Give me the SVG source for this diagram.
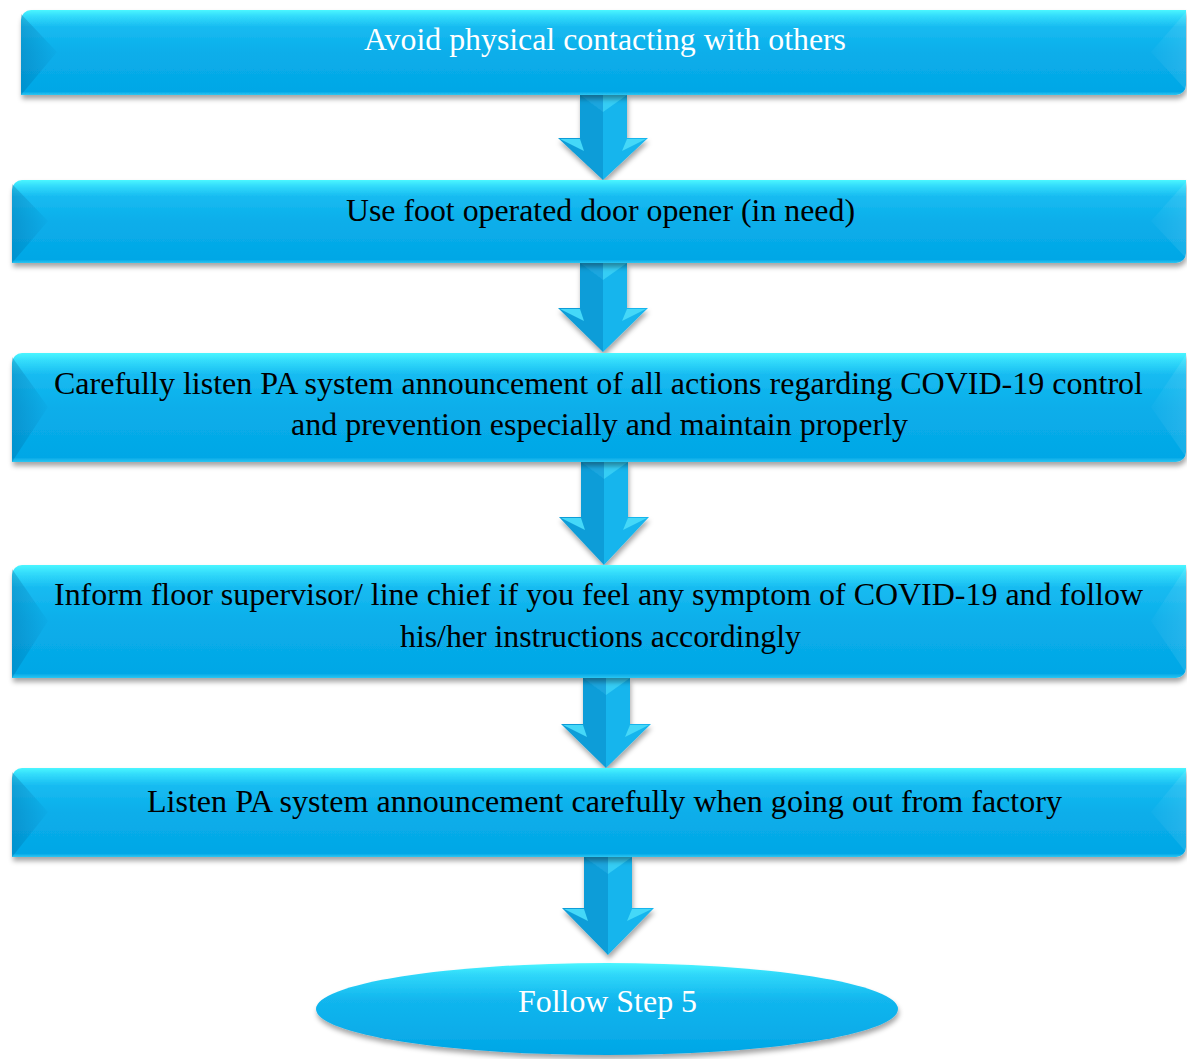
<svg xmlns="http://www.w3.org/2000/svg" width="1187" height="1059" viewBox="0 0 1187 1059">
  <defs>
    <!-- glossy blue fill for the step bars -->
    <linearGradient id="barFill" x1="0" y1="0" x2="0" y2="1">
      <stop offset="0" stop-color="#4af6ff"/>
      <stop offset="0.07" stop-color="#33dcfb"/>
      <stop offset="0.2" stop-color="#17bbf1"/>
      <stop offset="0.5" stop-color="#0aaeea"/>
      <stop offset="0.96" stop-color="#03a7e6"/>
      <stop offset="1" stop-color="#2cc6f2"/>
    </linearGradient>
    <linearGradient id="bevelL" x1="0" y1="0" x2="1" y2="0">
      <stop offset="0" stop-color="#005a90" stop-opacity="0.28"/>
      <stop offset="1" stop-color="#005a90" stop-opacity="0.03"/>
    </linearGradient>
    <linearGradient id="bevelR" x1="1" y1="0" x2="0" y2="0">
      <stop offset="0" stop-color="#ffffff" stop-opacity="0.10"/>
      <stop offset="1" stop-color="#ffffff" stop-opacity="0.02"/>
    </linearGradient>
    <linearGradient id="ovalFill" x1="0" y1="0" x2="0" y2="1">
      <stop offset="0" stop-color="#4af6ff"/>
      <stop offset="0.12" stop-color="#30d8fa"/>
      <stop offset="0.4" stop-color="#12b6ee"/>
      <stop offset="1" stop-color="#02a6e6"/>
    </linearGradient>
    <filter id="shadow" x="-5%" y="-20%" width="110%" height="150%">
      <feGaussianBlur in="SourceAlpha" stdDeviation="2.5"/>
      <feOffset dx="1" dy="4" result="b"/>
      <feFlood flood-color="#000" flood-opacity="0.35"/>
      <feComposite in2="b" operator="in"/>
      <feMerge>
        <feMergeNode/>
        <feMergeNode in="SourceGraphic"/>
      </feMerge>
    </filter>
    <style>
      .bar { fill: url(#barFill); }
      .bl { fill: url(#bevelL); }
      .br { fill: url(#bevelR); }
      .lbl { font-family: "Liberation Serif", "Times New Roman", serif; font-size: 31px; fill: #000; }
      .w { fill: #ffffff; }
      .aL { fill: #0c9dd8; }
      .aR { fill: #17b5ed; }
      .aTopL { fill: #1aa6df; }
      .aTopR { fill: #34cdf5; }
      .aWing { fill: #45d8f8; }
    </style>
  </defs>

  <rect width="1187" height="1059" fill="#ffffff"/>

  <!-- down arrows between steps -->
  <g id="connectors" filter="url(#shadow)">
    <g id="arrow1">
      <polygon class="aL" points="580,95 603,95 603,180 558,138 580,138"/>
      <polygon class="aR" points="603,95 627,95 627,138 648,138 603,180"/>
      <polygon class="aTopL" points="580,95 603,95 603,112"/>
      <polygon class="aTopR" points="603,95 627,95 603,112"/>
      <polygon class="aWing" points="560,139 580,139 584,151"/>
      <polygon class="aWing" points="627,139 646,139 622,151"/>
    </g>
    <g id="arrow2">
      <polygon class="aL" points="580,263 603,263 603,352 558,308 580,308"/>
      <polygon class="aR" points="603,263 627,263 627,308 648,308 603,352"/>
      <polygon class="aTopL" points="580,263 603,263 603,280"/>
      <polygon class="aTopR" points="603,263 627,263 603,280"/>
      <polygon class="aWing" points="560,309 580,309 584,321"/>
      <polygon class="aWing" points="627,309 646,309 622,321"/>
    </g>
    <g id="arrow3">
      <polygon class="aL" points="581,462 604,462 604,565 559,517 581,517"/>
      <polygon class="aR" points="604,462 628,462 628,517 649,517 604,565"/>
      <polygon class="aTopL" points="581,462 604,462 604,479"/>
      <polygon class="aTopR" points="604,462 628,462 604,479"/>
      <polygon class="aWing" points="561,518 581,518 585,530"/>
      <polygon class="aWing" points="628,518 647,518 623,530"/>
    </g>
    <g id="arrow4">
      <polygon class="aL" points="583,678 606,678 606,768 561,724 583,724"/>
      <polygon class="aR" points="606,678 630,678 630,724 651,724 606,768"/>
      <polygon class="aTopL" points="583,678 606,678 606,695"/>
      <polygon class="aTopR" points="606,678 630,678 606,695"/>
      <polygon class="aWing" points="563,725 583,725 587,737"/>
      <polygon class="aWing" points="630,725 649,725 625,737"/>
    </g>
    <g id="arrow5">
      <polygon class="aL" points="584,857 608,857 608,955 562,908 584,908"/>
      <polygon class="aR" points="608,857 632,857 632,908 654,908 608,955"/>
      <polygon class="aTopL" points="584,857 608,857 608,874"/>
      <polygon class="aTopR" points="608,857 632,857 608,874"/>
      <polygon class="aWing" points="564,909 584,909 588,921"/>
      <polygon class="aWing" points="632,909 652,909 627,921"/>
    </g>
  </g>

  <!-- step 1 -->
  <g id="step1">
    <path class="bar" filter="url(#shadow)" d="M31,10 H1186 V85 A10,10 0 0 1 1176,95 H21 V20 A10,10 0 0 1 31,10 Z"/>
    <polygon class="bl" points="21,14 57,52 21,95"/>
    <polygon class="br" points="1186,12 1151,52 1186,90"/>
    <text class="lbl w" x="364" y="50" textLength="482" lengthAdjust="spacingAndGlyphs">Avoid physical contacting  with others</text>
  </g>

  <!-- step 2 -->
  <g id="step2">
    <path class="bar" filter="url(#shadow)" d="M22,180 H1186 V253 A10,10 0 0 1 1176,263 H12 V190 A10,10 0 0 1 22,180 Z"/>
    <polygon class="bl" points="12,184 48,221 12,263"/>
    <polygon class="br" points="1186,182 1151,221 1186,258"/>
    <text class="lbl" x="346" y="221" textLength="509" lengthAdjust="spacingAndGlyphs">Use foot operated door opener (in need)</text>
  </g>

  <!-- step 3 -->
  <g id="step3">
    <path class="bar" filter="url(#shadow)" d="M22,353 H1186 V452 A10,10 0 0 1 1176,462 H12 V363 A10,10 0 0 1 22,353 Z"/>
    <polygon class="bl" points="12,357 48,407 12,462"/>
    <polygon class="br" points="1186,355 1151,407 1186,457"/>
    <text class="lbl" x="54" y="394" textLength="1089" lengthAdjust="spacingAndGlyphs">Carefully listen PA system announcement  of all actions regarding COVID-19  control</text>
    <text class="lbl" x="291" y="435" textLength="617" lengthAdjust="spacingAndGlyphs">and prevention especially and maintain properly</text>
  </g>

  <!-- step 4 -->
  <g id="step4">
    <path class="bar" filter="url(#shadow)" d="M22,565 H1186 V668 A10,10 0 0 1 1176,678 H12 V575 A10,10 0 0 1 22,565 Z"/>
    <polygon class="bl" points="12,569 48,621 12,678"/>
    <polygon class="br" points="1186,567 1151,621 1186,673"/>
    <text class="lbl" x="54" y="605" textLength="1089" lengthAdjust="spacingAndGlyphs">Inform  floor supervisor/ line chief if you feel any symptom  of COVID-19  and follow</text>
    <text class="lbl" x="400" y="647" textLength="401" lengthAdjust="spacingAndGlyphs">his/her instructions  accordingly</text>
  </g>

  <!-- step 5 -->
  <g id="step5">
    <path class="bar" filter="url(#shadow)" d="M22,768 H1186 V847 A10,10 0 0 1 1176,857 H12 V778 A10,10 0 0 1 22,768 Z"/>
    <polygon class="bl" points="12,772 48,812 12,857"/>
    <polygon class="br" points="1186,770 1151,812 1186,852"/>
    <text class="lbl" x="147" y="812" textLength="915" lengthAdjust="spacingAndGlyphs">Listen PA system announcement  carefully when going out from factory</text>
  </g>

  <!-- final step -->
  <g id="finalStep">
    <ellipse cx="607" cy="1009" rx="291" ry="46" fill="url(#ovalFill)" filter="url(#shadow)"/>
    <text class="lbl w" x="518" y="1012" textLength="179" lengthAdjust="spacingAndGlyphs">Follow Step 5</text>
  </g>
</svg>
